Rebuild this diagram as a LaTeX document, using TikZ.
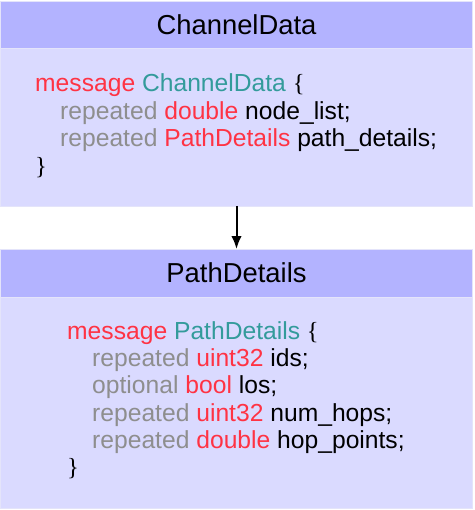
\documentclass[tikz,border=0pt]{standalone}
\usepackage{fontspec}
\setmainfont{Liberation Sans}
\newfontfamily\bracefont{Liberation Serif}
\usetikzlibrary{arrows.meta}
\definecolor{hdr}{HTML}{B3B3FF}
\definecolor{bdy}{HTML}{DADAFF}
\definecolor{edge}{HTML}{E4E4FA}
\definecolor{kw}{HTML}{FF3344}
\definecolor{tname}{HTML}{339B9B}
\definecolor{lbl}{HTML}{8E8E8E}
\newcommand{\kwd}[1]{\textcolor{kw}{#1}}
\newcommand{\tnm}[1]{\textcolor{tname}{#1}}
\newcommand{\lab}[1]{\textcolor{lbl}{#1}}
\newcommand{\lbr}{{\bracefont\{}}
\newcommand{\rbr}{{\bracefont\}}}
\begin{document}
\begin{tikzpicture}[x=1pt,y=-1pt,
  hdrbox/.style={fill=hdr,draw=edge,line width=0.8pt},
  bdybox/.style={fill=bdy,draw=edge,line width=0.8pt},
  title/.style={anchor=base,inner sep=0pt,font=\fontsize{27.4}{32}\selectfont},
  codeline/.style={anchor=base west,inner sep=0pt,font=\fontsize{24.65}{28}\selectfont},
  conn/.style={line width=2pt,-{Latex[length=13pt,width=10.5pt]}}]
\useasboundingbox (0,0) rectangle (474,510);
% top box
\path[bdybox] (0.5,48) rectangle (472.5,206);
\path[hdrbox] (0.5,1) rectangle (472.5,48);
\coordinate (topbottom) at (236.5,206);
\node[title] (t1) at (236.5,35) {ChannelData};
\node[codeline] (a1) at (35,92) {\kwd{message} \tnm{ChannelData} \lbr};
\node[codeline] (a2) at (60,119.5) {\lab{repeated} \kwd{double} node\_list;};
\node[codeline] (a3) at (60,147) {\lab{repeated} \kwd{PathDetails} path\_details;};
\node[codeline] (a4) at (35,175) {\rbr};
% bottom box
\path[bdybox] (0.5,297) rectangle (472.5,508.5);
\path[hdrbox] (0.5,249) rectangle (472.5,297);
\coordinate (bottomtop) at (236.5,249);
\node[title] (t2) at (236.5,282) {PathDetails};
\node[codeline] (b1) at (67,339) {\kwd{message} \tnm{PathDetails} \lbr};
\node[codeline] (b2) at (92,366) {\lab{repeated} \kwd{uint32} ids;};
\node[codeline] (b3) at (92,393.5) {\lab{optional} \kwd{bool} los;};
\node[codeline] (b4) at (92,421) {\lab{repeated} \kwd{uint32} num\_hops;};
\node[codeline] (b5) at (92,448) {\lab{repeated} \kwd{double} hop\_points;};
\node[codeline] (b6) at (67,475) {\rbr};
\draw[conn] (topbottom) -- (bottomtop);
\end{tikzpicture}
\end{document}
